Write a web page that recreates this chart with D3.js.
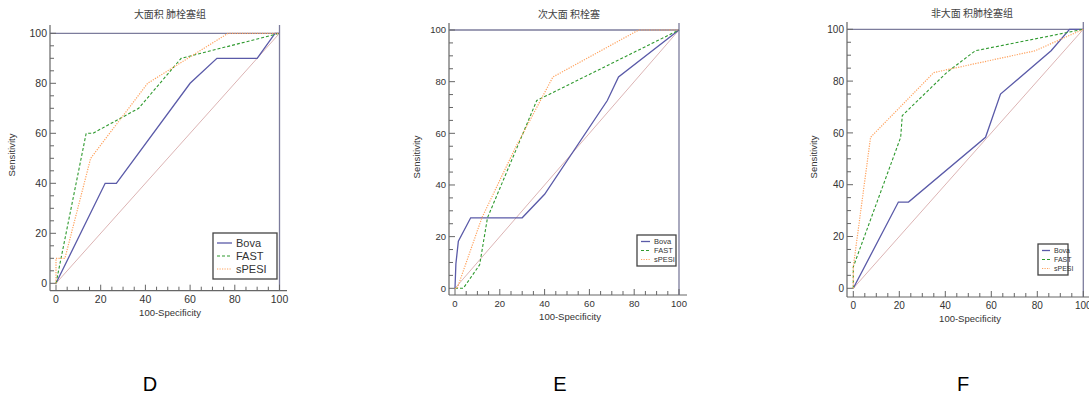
<!DOCTYPE html>
<html>
<head>
<meta charset="utf-8">
<script src="https://cdn.jsdelivr.net/npm/d3@7"></script>
<style>
  body { margin: 0; background: #fff; }
  svg text { font-family: "Liberation Sans", Arial, sans-serif; }
</style>
</head>
<body>
<svg id="chart" width="1089" height="401"></svg>
<script>
// chart data
var panelTitles = ["大面积 肺栓塞组", "次大面 积栓塞", "非大面 积肺栓塞组"];
var panelLetters = ["D", "E", "F"];
var seriesNames = ["Bova", "FAST", "sPESI"];
var axisTicks = [0, 20, 40, 60, 80, 100];

// D: massive PE
var dBovaX  = [0, 22, 27, 60, 72, 90, 98, 100];
var dBovaY  = [0, 40, 40, 80, 90, 90, 100, 100];
var dFastX  = [0, 13.5, 16.5, 37, 56, 100];
var dFastY  = [0, 60, 60, 70, 90, 100];
var dSpesiX = [0, 0, 4, 15.5, 41, 77, 100];
var dSpesiY = [0, 10, 10, 50, 80, 100, 100];

// E: submassive
var eBovaX  = [0, 0.4, 1.5, 7, 30, 40, 68, 73, 100];
var eBovaY  = [0, 9.5, 18.2, 27.3, 27.3, 36.4, 72.7, 81.8, 100];
var eFastX  = [0, 3.7, 11, 14.5, 36.5, 100];
var eFastY  = [0, 0, 9.1, 27.3, 72.7, 100];
var eSpesiX = [0, 1, 12, 27, 43.7, 82, 100];
var eSpesiY = [0, 0, 27.3, 54.5, 81.8, 100, 100];

// F: non-massive
var fBovaX  = [0, 19.6, 24, 57.5, 64, 86, 94, 100];
var fBovaY  = [0, 33.3, 33.3, 58.3, 75, 91.7, 100, 100];
var fFastX  = [0, 0, 20.6, 21.3, 40.6, 53, 100];
var fFastY  = [0, 8.3, 58.3, 66.7, 83.3, 91.7, 100];
var fSpesiX = [0, 0, 7.5, 35, 79, 100];
var fSpesiY = [0, 8.3, 58.3, 83.3, 91.7, 100];

var seriesStyle = [
  {color: "#5a5aa8", dash: null, width: 1.3},
  {color: "#2f9a2f", dash: "3,2", width: 1.1},
  {color: "#ffa15c", dash: "1.2,1.3", width: 1.2}
];

var panels = [
  {x0: 56, x1: 279.5, y0: 283.3, y1: 33.3, axX: 50, axY: 290.7, axTop: 25, axRight: 287,
   font: 10.5, title: [170, 18], yLab: [15, 155], xLab: [170, 316], letter: [150, 391],
   legend: {x: 213, y: 233, w: 64, h: 46, font: 11, row: 13, line: 15},
   series: [[dBovaX, dBovaY], [dFastX, dFastY], [dSpesiX, dSpesiY]]},
  {x0: 455, x1: 679, y0: 288.3, y1: 30, axX: 449, axY: 295, axTop: 23, axRight: 687,
   font: 9.5, title: [569, 18], yLab: [420, 157], xLab: [570, 320], letter: [560, 391],
   legend: {x: 637, y: 235, w: 39, h: 31, font: 7.5, row: 9, line: 9},
   series: [[eBovaX, eBovaY], [eFastX, eFastY], [eSpesiX, eSpesiY]]},
  {x0: 853.3, x1: 1083.3, y0: 288.3, y1: 29.3, axX: 847, axY: 297, axTop: 22, axRight: 1089,
   font: 10, title: [972, 17], yLab: [817, 157], xLab: [970, 322], letter: [963, 391],
   legend: {x: 1038, y: 244, w: 30, h: 31, font: 7, row: 9, line: 8},
   series: [[fBovaX, fBovaY], [fFastX, fFastY], [fSpesiX, fSpesiY]]}
];

var svg = d3.select("#chart");
var axisColor = "#666";

panels.forEach(function(p, pi) {
  var x = d3.scaleLinear().domain([0, 100]).range([p.x0, p.x1]);
  var y = d3.scaleLinear().domain([0, 100]).range([p.y0, p.y1]);
  var g = svg.append("g");

  // title
  g.append("text").attr("x", p.title[0]).attr("y", p.title[1])
    .attr("text-anchor", "middle").attr("font-size", 10).attr("fill", "#444")
    .style("font-family", "'Noto Sans CJK SC', sans-serif")
    .text(panelTitles[pi]);

  // axis lines, offset from the data area
  g.append("line").attr("x1", p.axX).attr("x2", p.axX).attr("y1", p.axTop).attr("y2", p.axY)
    .attr("stroke", axisColor).attr("stroke-width", 1.2);
  g.append("line").attr("x1", p.axX).attr("x2", p.axRight).attr("y1", p.axY).attr("y2", p.axY)
    .attr("stroke", axisColor).attr("stroke-width", 1.2);

  // top and right frame at 100
  g.append("line").attr("x1", p.axX).attr("x2", x(100)).attr("y1", y(100)).attr("y2", y(100))
    .attr("stroke", "#7c7c9c").attr("stroke-width", 1.3);
  g.append("line").attr("x1", x(100)).attr("x2", x(100)).attr("y1", p.axTop).attr("y2", p.axY)
    .attr("stroke", "#7c7c9c").attr("stroke-width", 1.3);

  // ticks every 5, labels every 20
  var minor = d3.range(0, 101, 5);
  g.selectAll(".xt").data(minor).enter().append("line")
    .attr("x1", function(d) { return x(d); }).attr("x2", function(d) { return x(d); })
    .attr("y1", p.axY).attr("y2", function(d) { return p.axY - (d % 20 === 0 ? 6 : 4); })
    .attr("stroke", axisColor);
  g.selectAll(".yt").data(minor).enter().append("line")
    .attr("y1", function(d) { return y(d); }).attr("y2", function(d) { return y(d); })
    .attr("x1", p.axX).attr("x2", function(d) { return p.axX + (d % 20 === 0 ? 6 : 4); })
    .attr("stroke", axisColor);

  g.selectAll(".xl").data(axisTicks).enter().append("text")
    .attr("x", function(d) { return x(d); }).attr("y", p.axY + p.font + 2)
    .attr("text-anchor", "middle").attr("font-size", p.font).attr("fill", "#333")
    .text(function(d) { return d; });
  g.selectAll(".yl").data(axisTicks).enter().append("text")
    .attr("x", p.axX - 3).attr("y", function(d) { return y(d) + p.font * 0.36; })
    .attr("text-anchor", "end").attr("font-size", p.font).attr("fill", "#333")
    .text(function(d) { return d; });

  // axis titles
  g.append("text").attr("transform", "translate(" + p.yLab[0] + "," + p.yLab[1] + ") rotate(-90)")
    .attr("text-anchor", "middle").attr("font-size", 9.5).attr("fill", "#333")
    .text("Sensitivity");
  g.append("text").attr("x", p.xLab[0]).attr("y", p.xLab[1])
    .attr("text-anchor", "middle").attr("font-size", 9.5).attr("fill", "#333")
    .text("100-Specificity");

  // reference diagonal
  g.append("line").attr("x1", x(0)).attr("y1", y(0)).attr("x2", x(100)).attr("y2", y(100))
    .attr("stroke", "#dcb4b4").attr("stroke-width", 1);

  // ROC curves
  var line = d3.line().x(function(d) { return x(d[0]); }).y(function(d) { return y(d[1]); });
  p.series.forEach(function(s, si) {
    var pts = d3.zip(s[0], s[1]);
    var st = seriesStyle[si];
    g.append("path").attr("d", line(pts)).attr("fill", "none")
      .attr("stroke", st.color).attr("stroke-width", st.width)
      .attr("stroke-dasharray", st.dash);
  });

  // legend
  var L = p.legend;
  var leg = g.append("g");
  leg.append("rect").attr("x", L.x).attr("y", L.y).attr("width", L.w).attr("height", L.h)
    .attr("fill", "#fff").attr("stroke", "#444").attr("stroke-width", 1.3);
  seriesNames.forEach(function(name, si) {
    var st = seriesStyle[si];
    var cy = L.y + L.h / 2 + (si - 1) * L.row;
    leg.append("line").attr("x1", L.x + 4).attr("x2", L.x + 4 + L.line).attr("y1", cy).attr("y2", cy)
      .attr("stroke", st.color).attr("stroke-width", st.width).attr("stroke-dasharray", st.dash);
    leg.append("text").attr("x", L.x + 8 + L.line).attr("y", cy + L.font * 0.36)
      .attr("font-size", L.font).attr("fill", "#333").text(name);
  });

  // panel letter
  g.append("text").attr("x", p.letter[0]).attr("y", p.letter[1])
    .attr("text-anchor", "middle").attr("font-size", 20).attr("fill", "#000")
    .text(panelLetters[pi]);
});
</script>
</body>
</html>
